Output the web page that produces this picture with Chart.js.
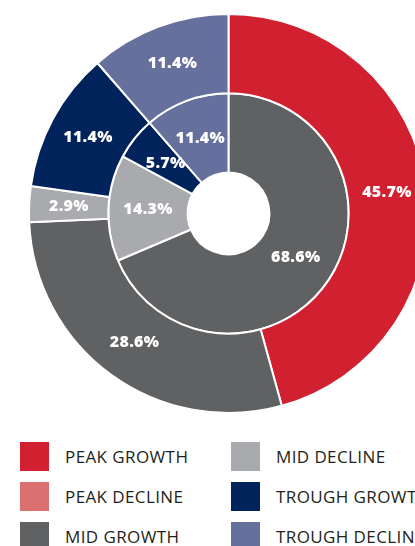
<!DOCTYPE html>
<html>
<head>
<meta charset="utf-8">
<script src="https://cdn.jsdelivr.net/npm/chart.js@4.4.1/dist/chart.umd.min.js"></script>
<style>
  html, body { margin: 0; padding: 0; background: #fff; }
  body { width: 415px; height: 546px; overflow: hidden; position: relative; font-family: "Open Sans", sans-serif; }
  #wrap { position: absolute; left: 28px; top: 13px; width: 401px; height: 401px; }
  #legend { position: absolute; left: 20px; top: 442px; width: 420px; }
  .item { position: absolute; height: 29px; display: flex; align-items: center; white-space: nowrap; }
  .box { width: 29px; height: 29px; margin-right: 16px; flex: none; }
  .txt { font-size: 17px; color: #231f20; letter-spacing: 0.4px; }
</style>
</head>
<body>
<div id="wrap"><canvas id="chart"></canvas></div>
<div id="legend"></div>
<script>
// phases, in legend order
const labels = ["PEAK GROWTH", "PEAK DECLINE", "MID GROWTH", "MID DECLINE", "TROUGH GROWTH", "TROUGH DECLINE"];
const colors = ["#d1202f", "#da706f", "#606163", "#a9aaad", "#00235b", "#66709d"];
// outer ring and inner ring shares (%)
const outerValues = [45.7, 0, 28.6, 2.9, 11.4, 11.4];
const innerValues = [0, 0, 68.6, 14.3, 5.7, 11.4];

// white % labels in the middle of each slice
const sliceLabels = {
  id: "sliceLabels",
  afterDatasetsDraw(chart) {
    const ctx = chart.ctx;
    ctx.save();
    ctx.fillStyle = "#fff";
    ctx.font = "800 16px 'Open Sans'";
    ctx.letterSpacing = "0.3px";
    ctx.textAlign = "center";
    ctx.textBaseline = "middle";
    chart.data.datasets.forEach((ds, i) => {
      chart.getDatasetMeta(i).data.forEach((arc, j) => {
        if (!ds.data[j]) return;
        const p = arc.tooltipPosition();
        ctx.fillText(ds.data[j].toFixed(1) + "%", p.x, p.y);
      });
    });
    ctx.restore();
  }
};

new Chart(document.getElementById("chart"), {
  type: "doughnut",
  data: {
    labels: labels,
    datasets: [
      { data: outerValues, backgroundColor: colors, borderColor: "#fff", borderWidth: 2 },
      { data: innerValues, backgroundColor: colors, borderColor: "#fff", borderWidth: 2 }
    ]
  },
  options: {
    responsive: true,
    maintainAspectRatio: false,
    animation: false,
    cutout: "20.5%",
    layout: { padding: 0 },
    plugins: {
      legend: { display: false },
      tooltip: { enabled: false }
    },
    events: []
  },
  plugins: [sliceLabels]
});

// legend: two columns of three
const legend = document.getElementById("legend");
labels.forEach((name, i) => {
  const col = Math.floor(i / 3), row = i % 3;
  const item = document.createElement("div");
  item.className = "item";
  item.style.left = (col * 211) + "px";
  item.style.top = (row * 40) + "px";
  item.innerHTML = '<div class="box" style="background:' + colors[i] + '"></div><span class="txt">' + name + '</span>';
  legend.appendChild(item);
});
</script>
</body>
</html>
